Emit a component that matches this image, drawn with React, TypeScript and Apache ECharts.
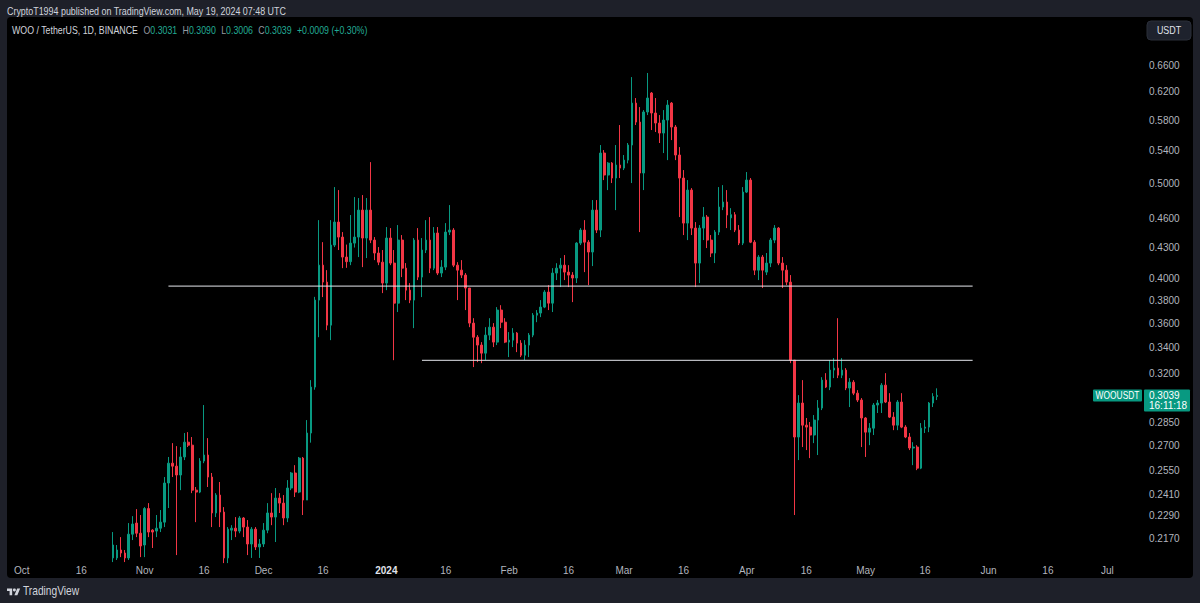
import React, { useEffect, useRef } from 'react';
import * as echarts from 'echarts';

// ---------- data ----------
const axisStart = '2023-09-28';
const axisDays = 286;
const monthNames = ['Jan', 'Feb', 'Mar', 'Apr', 'May', 'Jun', 'Jul', 'Aug', 'Sep', 'Oct', 'Nov', 'Dec'];

// [date, open, high, low, close]
const candles: [string, number, number, number, number][] = [
  ['2023-10-24', 0.2075, 0.2205, 0.2055, 0.2139],
  ['2023-10-25', 0.2075, 0.2139, 0.2065, 0.2114],
  ['2023-10-26', 0.2114, 0.2179, 0.2079, 0.2099],
  ['2023-10-27', 0.2099, 0.2114, 0.2055, 0.2075],
  ['2023-10-28', 0.2075, 0.2252, 0.2065, 0.2194],
  ['2023-10-29', 0.2194, 0.2289, 0.2164, 0.2247],
  ['2023-10-30', 0.2252, 0.2327, 0.2179, 0.2199],
  ['2023-10-31', 0.2199, 0.2295, 0.2079, 0.2134],
  ['2023-11-01', 0.2139, 0.2338, 0.2079, 0.2330],
  ['2023-11-02', 0.2330, 0.2360, 0.2179, 0.2205],
  ['2023-11-03', 0.2215, 0.2220, 0.2124, 0.2205],
  ['2023-11-04', 0.2210, 0.2295, 0.2179, 0.2225],
  ['2023-11-05', 0.2225, 0.2322, 0.2205, 0.2257],
  ['2023-11-06', 0.2257, 0.2509, 0.2231, 0.2474],
  ['2023-11-07', 0.2474, 0.2630, 0.2333, 0.2592],
  ['2023-11-08', 0.2592, 0.2717, 0.2509, 0.2574],
  ['2023-11-09', 0.2574, 0.2698, 0.2089, 0.2521],
  ['2023-11-10', 0.2521, 0.2692, 0.2433, 0.2630],
  ['2023-11-11', 0.2630, 0.2782, 0.2611, 0.2723],
  ['2023-11-12', 0.2723, 0.2788, 0.2692, 0.2704],
  ['2023-11-13', 0.2704, 0.2756, 0.2416, 0.2433],
  ['2023-11-14', 0.2433, 0.2451, 0.2257, 0.2422],
  ['2023-11-15', 0.2422, 0.2623, 0.2416, 0.2605],
  ['2023-11-16', 0.2605, 0.2971, 0.2592, 0.2642],
  ['2023-11-17', 0.2642, 0.2749, 0.2451, 0.2509],
  ['2023-11-18', 0.2509, 0.2533, 0.2231, 0.2306],
  ['2023-11-19', 0.2306, 0.2416, 0.2284, 0.2405],
  ['2023-11-20', 0.2405, 0.2480, 0.2231, 0.2311],
  ['2023-11-21', 0.2311, 0.2338, 0.2050, 0.2075],
  ['2023-11-22', 0.2075, 0.2231, 0.2050, 0.2220],
  ['2023-11-23', 0.2215, 0.2241, 0.2164, 0.2225],
  ['2023-11-24', 0.2225, 0.2284, 0.2179, 0.2210],
  ['2023-11-25', 0.2210, 0.2289, 0.2199, 0.2279],
  ['2023-11-26', 0.2279, 0.2284, 0.2179, 0.2231],
  ['2023-11-27', 0.2231, 0.2268, 0.2089, 0.2144],
  ['2023-11-28', 0.2144, 0.2231, 0.2075, 0.2220],
  ['2023-11-29', 0.2220, 0.2231, 0.2114, 0.2129],
  ['2023-11-30', 0.2129, 0.2169, 0.2075, 0.2144],
  ['2023-12-01', 0.2144, 0.2252, 0.2129, 0.2215],
  ['2023-12-02', 0.2215, 0.2360, 0.2199, 0.2306],
  ['2023-12-03', 0.2306, 0.2416, 0.2241, 0.2284],
  ['2023-12-04', 0.2284, 0.2445, 0.2154, 0.2388],
  ['2023-12-05', 0.2388, 0.2416, 0.2306, 0.2360],
  ['2023-12-06', 0.2360, 0.2405, 0.2241, 0.2279],
  ['2023-12-07', 0.2279, 0.2491, 0.2257, 0.2445],
  ['2023-12-08', 0.2445, 0.2539, 0.2433, 0.2533],
  ['2023-12-09', 0.2533, 0.2580, 0.2394, 0.2422],
  ['2023-12-10', 0.2422, 0.2630, 0.2416, 0.2623],
  ['2023-12-11', 0.2623, 0.2630, 0.2295, 0.2377],
  ['2023-12-12', 0.2377, 0.2868, 0.2377, 0.2782],
  ['2023-12-13', 0.2782, 0.3150, 0.2720, 0.3099],
  ['2023-12-14', 0.3099, 0.3830, 0.3080, 0.3801],
  ['2023-12-15', 0.3801, 0.4586, 0.3484, 0.4126],
  ['2023-12-16', 0.4126, 0.4355, 0.3828, 0.3965],
  ['2023-12-17', 0.3965, 0.4078, 0.3542, 0.3584],
  ['2023-12-18', 0.3584, 0.4586, 0.3460, 0.4325],
  ['2023-12-19', 0.4325, 0.4956, 0.4305, 0.4565],
  ['2023-12-20', 0.4565, 0.4921, 0.4275, 0.4407],
  ['2023-12-21', 0.4407, 0.4459, 0.4097, 0.4205],
  ['2023-12-22', 0.4205, 0.4330, 0.4100, 0.4160],
  ['2023-12-23', 0.4160, 0.4641, 0.4126, 0.4345],
  ['2023-12-24', 0.4345, 0.4841, 0.4300, 0.4407],
  ['2023-12-25', 0.4407, 0.4830, 0.4205, 0.4695],
  ['2023-12-26', 0.4695, 0.4864, 0.4107, 0.4397],
  ['2023-12-27', 0.4397, 0.4830, 0.4195, 0.4695],
  ['2023-12-28', 0.4695, 0.5255, 0.4345, 0.4376],
  ['2023-12-29', 0.4376, 0.4407, 0.4175, 0.4245],
  ['2023-12-30', 0.4245, 0.4305, 0.4126, 0.4155],
  ['2023-12-31', 0.4155, 0.4275, 0.3864, 0.3956],
  ['2024-01-01', 0.3956, 0.4512, 0.3891, 0.4397],
  ['2024-01-02', 0.4397, 0.4501, 0.4126, 0.4146],
  ['2024-01-03', 0.4146, 0.4275, 0.3301, 0.3774],
  ['2024-01-04', 0.3774, 0.4533, 0.3696, 0.4376],
  ['2024-01-05', 0.4376, 0.4428, 0.4012, 0.4097],
  ['2024-01-06', 0.4097, 0.4146, 0.3801, 0.3891],
  ['2024-01-07', 0.3891, 0.3956, 0.3774, 0.3801],
  ['2024-01-08', 0.3801, 0.4397, 0.3559, 0.4376],
  ['2024-01-09', 0.4376, 0.4501, 0.3984, 0.4012],
  ['2024-01-10', 0.4012, 0.4397, 0.3828, 0.4275],
  ['2024-01-11', 0.4275, 0.4586, 0.4245, 0.4376],
  ['2024-01-12', 0.4376, 0.4619, 0.4050, 0.4097],
  ['2024-01-13', 0.4097, 0.4512, 0.4078, 0.4449],
  ['2024-01-14', 0.4449, 0.4512, 0.4031, 0.4050],
  ['2024-01-15', 0.4050, 0.4175, 0.4012, 0.4107],
  ['2024-01-16', 0.4107, 0.4554, 0.4078, 0.4459],
  ['2024-01-17', 0.4459, 0.4751, 0.4428, 0.4480],
  ['2024-01-18', 0.4480, 0.4501, 0.4107, 0.4126],
  ['2024-01-19', 0.4126, 0.4155, 0.3801, 0.4078],
  ['2024-01-20', 0.4078, 0.4175, 0.4003, 0.4031],
  ['2024-01-21', 0.4031, 0.4050, 0.3713, 0.3910],
  ['2024-01-22', 0.3910, 0.3910, 0.3567, 0.3601],
  ['2024-01-23', 0.3601, 0.3643, 0.3248, 0.3484],
  ['2024-01-24', 0.3484, 0.3501, 0.3286, 0.3420],
  ['2024-01-25', 0.3420, 0.3444, 0.3278, 0.3356],
  ['2024-01-26', 0.3356, 0.3567, 0.3301, 0.3501],
  ['2024-01-27', 0.3501, 0.3643, 0.3460, 0.3567],
  ['2024-01-28', 0.3567, 0.3601, 0.3404, 0.3444],
  ['2024-01-29', 0.3444, 0.3739, 0.3420, 0.3713],
  ['2024-01-30', 0.3713, 0.3756, 0.3559, 0.3609],
  ['2024-01-31', 0.3609, 0.3643, 0.3436, 0.3444],
  ['2024-02-01', 0.3444, 0.3526, 0.3325, 0.3460],
  ['2024-02-02', 0.3460, 0.3559, 0.3404, 0.3518],
  ['2024-02-03', 0.3518, 0.3526, 0.3364, 0.3436],
  ['2024-02-04', 0.3436, 0.3460, 0.3325, 0.3340],
  ['2024-02-05', 0.3340, 0.3460, 0.3301, 0.3420],
  ['2024-02-06', 0.3420, 0.3518, 0.3325, 0.3501],
  ['2024-02-07', 0.3501, 0.3687, 0.3484, 0.3669],
  ['2024-02-08', 0.3669, 0.3713, 0.3609, 0.3687],
  ['2024-02-09', 0.3687, 0.3801, 0.3652, 0.3739],
  ['2024-02-10', 0.3739, 0.3891, 0.3730, 0.3873],
  ['2024-02-11', 0.3873, 0.3937, 0.3713, 0.3774],
  ['2024-02-12', 0.3774, 0.4097, 0.3696, 0.4050],
  ['2024-02-13', 0.4050, 0.4145, 0.3984, 0.4097],
  ['2024-02-14', 0.4097, 0.4195, 0.3919, 0.4126],
  ['2024-02-15', 0.4126, 0.4225, 0.3984, 0.4059],
  ['2024-02-16', 0.4059, 0.4126, 0.3919, 0.4031],
  ['2024-02-17', 0.4031, 0.4059, 0.3783, 0.4003],
  ['2024-02-18', 0.4003, 0.4355, 0.3956, 0.4345],
  ['2024-02-19', 0.4345, 0.4501, 0.4325, 0.4480],
  ['2024-02-20', 0.4480, 0.4586, 0.4059, 0.4355],
  ['2024-02-21', 0.4355, 0.4376, 0.3937, 0.4255],
  ['2024-02-22', 0.4255, 0.4807, 0.4117, 0.4695],
  ['2024-02-23', 0.4695, 0.4807, 0.4449, 0.4480],
  ['2024-02-24', 0.4480, 0.5470, 0.4407, 0.5368],
  ['2024-02-25', 0.5368, 0.5406, 0.5038, 0.5098],
  ['2024-02-26', 0.5098, 0.5255, 0.4921, 0.5243],
  ['2024-02-27', 0.5243, 0.5255, 0.5003, 0.5062],
  ['2024-02-28', 0.5062, 0.5470, 0.4695, 0.5219],
  ['2024-02-29', 0.5219, 0.5733, 0.5062, 0.5182],
  ['2024-03-01', 0.5182, 0.5343, 0.5158, 0.5280],
  ['2024-03-02', 0.5280, 0.5496, 0.5240, 0.5470],
  ['2024-03-03', 0.5470, 0.6416, 0.5003, 0.6036],
  ['2024-03-04', 0.6036, 0.6108, 0.5733, 0.5773],
  ['2024-03-05', 0.5773, 0.5980, 0.4459, 0.5122],
  ['2024-03-06', 0.5122, 0.5938, 0.4921, 0.5911],
  ['2024-03-07', 0.5911, 0.6478, 0.5869, 0.6108],
  ['2024-03-08', 0.6180, 0.6195, 0.5666, 0.5897],
  ['2024-03-09', 0.5897, 0.6108, 0.5640, 0.5760],
  ['2024-03-10', 0.5760, 0.5869, 0.5496, 0.5626],
  ['2024-03-11', 0.5626, 0.5938, 0.5368, 0.5800],
  ['2024-03-12', 0.5800, 0.6079, 0.5280, 0.6008],
  ['2024-03-13', 0.6036, 0.6051, 0.5534, 0.5706],
  ['2024-03-14', 0.5706, 0.5733, 0.5280, 0.5343],
  ['2024-03-15', 0.5343, 0.5444, 0.4619, 0.5062],
  ['2024-03-16', 0.5062, 0.5158, 0.4428, 0.4554],
  ['2024-03-17', 0.4554, 0.5038, 0.4376, 0.4921],
  ['2024-03-18', 0.4921, 0.4944, 0.4428, 0.4501],
  ['2024-03-19', 0.4501, 0.4565, 0.3919, 0.4146],
  ['2024-03-20', 0.4146, 0.4533, 0.3956, 0.4501],
  ['2024-03-21', 0.4501, 0.4729, 0.4376, 0.4619],
  ['2024-03-22', 0.4619, 0.4641, 0.4295, 0.4376],
  ['2024-03-23', 0.4376, 0.4428, 0.4205, 0.4245],
  ['2024-03-24', 0.4245, 0.4480, 0.4146, 0.4459],
  ['2024-03-25', 0.4459, 0.4956, 0.4428, 0.4729],
  ['2024-03-26', 0.4729, 0.4979, 0.4695, 0.4785],
  ['2024-03-27', 0.4785, 0.4921, 0.4501, 0.4641],
  ['2024-03-28', 0.4610, 0.4717, 0.4480, 0.4645],
  ['2024-03-29', 0.4645, 0.4673, 0.4459, 0.4480],
  ['2024-03-30', 0.4480, 0.4533, 0.4325, 0.4345],
  ['2024-03-31', 0.4345, 0.4956, 0.4325, 0.4898],
  ['2024-04-01', 0.4898, 0.5134, 0.4887, 0.5038],
  ['2024-04-02', 0.5038, 0.5062, 0.4345, 0.4355],
  ['2024-04-03', 0.4355, 0.4376, 0.4031, 0.4078],
  ['2024-04-04', 0.4078, 0.4225, 0.3984, 0.4205],
  ['2024-04-05', 0.4205, 0.4225, 0.3910, 0.4078],
  ['2024-04-06', 0.4059, 0.4245, 0.4031, 0.4146],
  ['2024-04-07', 0.4146, 0.4397, 0.4107, 0.4376],
  ['2024-04-08', 0.4376, 0.4533, 0.4345, 0.4501],
  ['2024-04-09', 0.4501, 0.4512, 0.4126, 0.4146],
  ['2024-04-10', 0.4146, 0.4205, 0.3910, 0.4078],
  ['2024-04-11', 0.4078, 0.4126, 0.3937, 0.3965],
  ['2024-04-12', 0.3965, 0.4031, 0.3278, 0.3301],
  ['2024-04-13', 0.3301, 0.3301, 0.2295, 0.2756],
  ['2024-04-14', 0.2756, 0.3041, 0.2611, 0.2985],
  ['2024-04-15', 0.2985, 0.3150, 0.2692, 0.2834],
  ['2024-04-16', 0.2834, 0.2882, 0.2673, 0.2821],
  ['2024-04-17', 0.2821, 0.2855, 0.2623, 0.2769],
  ['2024-04-18', 0.2769, 0.2902, 0.2717, 0.2868],
  ['2024-04-19', 0.2868, 0.3006, 0.2642, 0.2950],
  ['2024-04-20', 0.2950, 0.3172, 0.2936, 0.3150],
  ['2024-04-21', 0.3150, 0.3202, 0.3092, 0.3099],
  ['2024-04-22', 0.3099, 0.3301, 0.3077, 0.3225],
  ['2024-04-23', 0.3225, 0.3317, 0.3165, 0.3240],
  ['2024-04-24', 0.3240, 0.3643, 0.3165, 0.3187],
  ['2024-04-25', 0.3187, 0.3317, 0.3165, 0.3225],
  ['2024-04-26', 0.3225, 0.3240, 0.3077, 0.3092],
  ['2024-04-27', 0.3092, 0.3165, 0.2957, 0.3135],
  ['2024-04-28', 0.3135, 0.3150, 0.3041, 0.3055],
  ['2024-04-29', 0.3055, 0.3077, 0.2992, 0.3006],
  ['2024-04-30', 0.3006, 0.3020, 0.2692, 0.2882],
  ['2024-05-01', 0.2882, 0.2888, 0.2630, 0.2788],
  ['2024-05-02', 0.2788, 0.2848, 0.2704, 0.2814],
  ['2024-05-03', 0.2814, 0.2985, 0.2769, 0.2971],
  ['2024-05-04', 0.2971, 0.3006, 0.2916, 0.2985],
  ['2024-05-05', 0.2985, 0.3128, 0.2916, 0.3113],
  ['2024-05-06', 0.3113, 0.3202, 0.2985, 0.2992],
  ['2024-05-07', 0.2992, 0.3055, 0.2882, 0.2888],
  ['2024-05-08', 0.2888, 0.2922, 0.2801, 0.2834],
  ['2024-05-09', 0.2834, 0.3006, 0.2801, 0.2992],
  ['2024-05-10', 0.2992, 0.3055, 0.2814, 0.2821],
  ['2024-05-11', 0.2821, 0.2834, 0.2749, 0.2756],
  ['2024-05-12', 0.2756, 0.2782, 0.2673, 0.2686],
  ['2024-05-13', 0.2686, 0.2723, 0.2580, 0.2692],
  ['2024-05-14', 0.2692, 0.2704, 0.2550, 0.2562],
  ['2024-05-15', 0.2562, 0.2848, 0.2556, 0.2814],
  ['2024-05-16', 0.2814, 0.2868, 0.2782, 0.2821],
  ['2024-05-17', 0.2821, 0.2992, 0.2788, 0.2985],
  ['2024-05-18', 0.2985, 0.3055, 0.2957, 0.3031],
  ['2024-05-19', 0.3031, 0.3090, 0.3006, 0.3039],
];

const resistanceLevel = 0.3928;
const resistanceFrom = '2023-11-07';
const supportLevel = 0.3300;
const supportFrom = '2024-01-10';
const levelsTo = '2024-05-28';

const priceTicks = [0.217, 0.229, 0.241, 0.255, 0.27, 0.285, 0.32, 0.34, 0.36, 0.38, 0.4, 0.43, 0.46, 0.5, 0.54, 0.58, 0.62, 0.66];
const priceMin = 0.2065;
const priceMax = 0.7388;

const symbolName = 'WOOUSDT';
const lastChange = '+0.0009';
const lastChangePct = '+0.30%';
const countdown = '16:11:18';

// ---------- style ----------
const UP = '#089981';
const DOWN = '#f23645';
const FRAME = '#1e2029';
const TEXT = '#d1d4dc';
const AXIS_TEXT = '#b2b5be';
const FONT = '"Liberation Sans", Arial, sans-serif';
const NARROW_SCALE = 0.81;

function buildDates(): string[] {
  const [y, m, d] = axisStart.split('-').map(Number);
  const t0 = Date.UTC(y, m - 1, d);
  const out: string[] = [];
  for (let i = 0; i < axisDays; i++) out.push(new Date(t0 + i * 86400000).toISOString().slice(0, 10));
  return out;
}

const LOGO_D = 'M14 22H7V11H0V4h14v18zM28 22h-8l7.5-18h8L28 22z';
let logoRegistered = false;

export default function App() {
  const ref = useRef<HTMLDivElement>(null);

  useEffect(() => {
    document.body.style.margin = '0';
    document.body.style.background = FRAME;
    if (!logoRegistered) {
      echarts.graphic.registerShape('tvlogo', echarts.graphic.extendPath(LOGO_D, {}));
      logoRegistered = true;
    }
    const chart = echarts.init(ref.current!, null, { renderer: 'svg' });
    const dates = buildDates();
    const last = candles[candles.length - 1];

    const option: any = {
      animation: false,
      backgroundColor: FRAME,
      grid: { left: 8, right: 59, top: 17, bottom: 43, containLabel: false },
      xAxis: {
        type: 'category',
        data: dates,
        boundaryGap: true,
        axisLine: { show: false },
        axisTick: { show: false },
        splitLine: { show: false },
        axisLabel: {
          color: AXIS_TEXT,
          fontFamily: FONT,
          fontSize: 10,
          margin: 5,
          interval: (_i: number, v: string) => v.endsWith('-01') || v.endsWith('-16'),
          formatter: (v: string) => {
            const mm = Number(v.slice(5, 7));
            const dd = v.slice(8, 10);
            if (dd === '16') return '16';
            if (mm === 1) return '{y|' + v.slice(0, 4) + '}';
            return monthNames[mm - 1];
          },
          rich: { y: { color: '#e0e3eb', fontWeight: 'bold', fontFamily: FONT, fontSize: 10 } },
        },
      },
      yAxis: {
        type: 'log',
        logBase: 10,
        position: 'right',
        min: priceMin,
        max: priceMax,
        axisLine: { show: false },
        axisTick: { show: false },
        splitLine: { show: false },
        axisLabel: {
          color: AXIS_TEXT,
          fontFamily: FONT,
          fontSize: 10,
          margin: 8,
          customValues: priceTicks,
          formatter: (v: number) => v.toFixed(4),
        },
      },
      series: [
        {
          type: 'candlestick',
          barWidth: 2.2,
          clip: true,
          encode: { x: 0, y: [1, 2, 3, 4] },
          data: candles.map((c) => [c[0], c[1], c[4], c[3], c[2]]),
          itemStyle: { color: UP, color0: DOWN, borderColor: UP, borderColor0: DOWN, borderWidth: 1 },
        },
        {
          type: 'line',
          data: [[resistanceFrom, resistanceLevel], [levelsTo, resistanceLevel]],
          symbol: 'none',
          lineStyle: { color: '#e6e8ee', width: 1 },
          silent: true,
          z: 3,
        },
        {
          type: 'line',
          data: [[supportFrom, supportLevel], [levelsTo, supportLevel]],
          symbol: 'none',
          lineStyle: { color: '#e6e8ee', width: 1 },
          silent: true,
          z: 3,
        },
      ],
    };
    chart.setOption(option);

    const yPix = chart.convertToPixel({ yAxisIndex: 0 }, last[4]) as number;
    const fmt = (n: number) => n.toFixed(4);
    const lab = { fill: '#9598a1', fontSize: 11, fontFamily: FONT };
    const val = { fill: '#22ab94', fontSize: 11, fontFamily: FONT };

    chart.setOption({
      graphic: {
        elements: [
          { type: 'rect', z: -10, shape: { x: 7, y: 17, width: 1186, height: 561, r: 4 }, style: { fill: '#000000' }, silent: true },
          {
            type: 'text', x: 7, y: 11, scaleX: NARROW_SCALE,
            style: { text: 'CryptoT1994 published on TradingView.com, May 19, 2024 07:48 UTC', fill: TEXT, fontSize: 11, fontFamily: FONT, verticalAlign: 'middle' },
          },
          {
            type: 'text', x: 12, y: 30, scaleX: 0.8,
            style: {
              text:
                '{t|WOO / TetherUS, 1D, BINANCE}  {l|O}{v|' + fmt(last[1]) + '}  {l|H}{v|' + fmt(last[2]) + '}  {l|L}{v|' + fmt(last[3]) +
                '}  {l|C}{v|' + fmt(last[4]) + '}  {v|' + lastChange + ' (' + lastChangePct + ')}',
              verticalAlign: 'middle',
              rich: { t: { fill: TEXT, fontSize: 11, fontFamily: FONT }, l: lab, v: val },
            },
          },
          { type: 'rect', shape: { x: 1147, y: 21, width: 44, height: 19, r: 4 }, style: { fill: '#1e222d', stroke: '#2a2e39', lineWidth: 1 } },
          {
            type: 'text', x: 1169, y: 30.5, scaleX: NARROW_SCALE,
            style: { text: 'USDT', fill: '#e0e3eb', fontSize: 11, fontFamily: FONT, align: 'center', verticalAlign: 'middle' },
          },
          { type: 'rect', shape: { x: 1093, y: yPix - 6, width: 49, height: 12, r: 1 }, style: { fill: UP } },
          {
            type: 'text', x: 1117.5, y: yPix, scaleX: 0.8,
            style: { text: symbolName, fill: '#ffffff', fontSize: 10.5, fontFamily: FONT, align: 'center', verticalAlign: 'middle' },
          },
          { type: 'rect', shape: { x: 1144, y: yPix - 6, width: 46, height: 22, r: 1 }, style: { fill: UP } },
          {
            type: 'text', x: 1149, y: yPix,
            style: { text: fmt(last[4]), fill: '#ffffff', fontSize: 10, fontFamily: FONT, verticalAlign: 'middle' },
          },
          {
            type: 'text', x: 1149, y: yPix + 10,
            style: { text: countdown, fill: '#ffffff', fontSize: 10, fontFamily: FONT, verticalAlign: 'middle' },
          },
          { type: 'tvlogo', x: 7, y: 587, scaleX: 0.37, scaleY: 0.37, style: { fill: TEXT } },
          { type: 'circle', shape: { cx: 7 + 20 * 0.37, cy: 587 + 7.8 * 0.37, r: 4 * 0.37 }, style: { fill: TEXT } },
          {
            type: 'text', x: 23, y: 591, scaleX: 0.85,
            style: { text: 'TradingView', fill: TEXT, fontSize: 12, fontFamily: FONT, verticalAlign: 'middle' },
          },
        ],
      },
    });

    return () => chart.dispose();
  }, []);

  return <div ref={ref} style={{ position: 'fixed', left: 0, top: 0, width: 1200, height: 603 }} />;
}
